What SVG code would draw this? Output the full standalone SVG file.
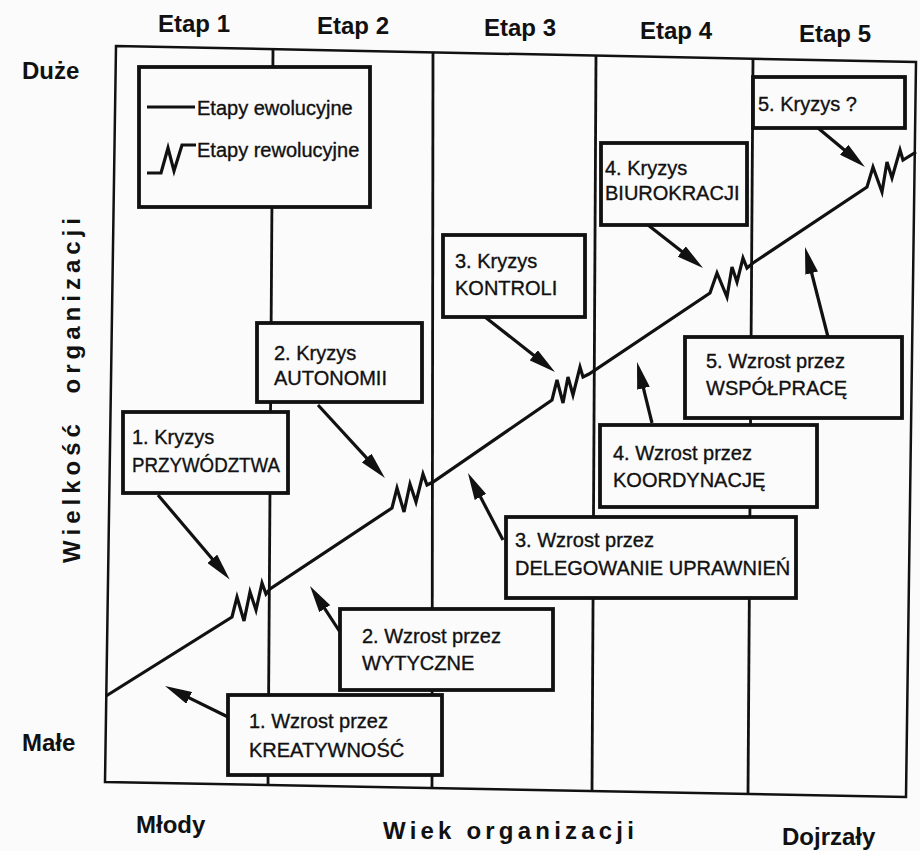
<svg xmlns="http://www.w3.org/2000/svg" width="920" height="851" viewBox="0 0 920 851">
<style>
.frame{fill:none;stroke:#111;stroke-width:2.5}
.div{fill:none;stroke:#111;stroke-width:2.8}
.box{fill:#fbfbfb;stroke:#111;stroke-width:3.8}
.t{font-family:"Liberation Sans",Arial,sans-serif;font-size:20px;fill:#111;stroke:#111;stroke-width:0.35}
.lab{font-family:"Liberation Sans",Arial,sans-serif;font-size:24px;font-weight:bold;fill:#111}
.main{fill:none;stroke:#111;stroke-width:3.2;stroke-linejoin:miter}
.arr{fill:none;stroke:#111;stroke-width:3.2;marker-end:url(#ah)}
</style>
<defs>
<marker id="ah" markerUnits="userSpaceOnUse" markerWidth="27" markerHeight="13" viewBox="0 0 27 13" refX="12" refY="6.5" orient="auto">
<path d="M0,0 L27,6.5 L0,13 Z" fill="#111"/>
</marker>
</defs>
<rect x="0" y="0" width="920" height="851" fill="#fbfbfb"/>
<g id="frame">
<polygon class="frame" points="116,46 916,62 906,797 105,782"/>
<line class="div" x1="273" y1="49" x2="268" y2="786"/>
<line class="div" x1="433" y1="52" x2="432" y2="789"/>
<line class="div" x1="596" y1="55" x2="592" y2="792"/>
<line class="div" x1="753" y1="59" x2="748" y2="794"/>
</g>
<g id="axis-labels">
<text class="lab" x="194" y="32" text-anchor="middle">Etap 1</text>
<text class="lab" x="353" y="34" text-anchor="middle">Etap 2</text>
<text class="lab" x="520" y="36" text-anchor="middle">Etap 3</text>
<text class="lab" x="676" y="39" text-anchor="middle">Etap 4</text>
<text class="lab" x="835" y="42" text-anchor="middle">Etap 5</text>
<text class="lab" x="22" y="79">Duże</text>
<text class="lab" x="22" y="751">Małe</text>
<text class="lab" x="136" y="833">Młody</text>
<text class="lab" x="782" y="845">Dojrzały</text>
<text class="lab" x="383" y="839" style="letter-spacing:4.2px">Wiek organizacji</text>
<text class="lab" transform="translate(80,388) rotate(-90)" text-anchor="middle" style="letter-spacing:5px;word-spacing:14px">Wielkość organizacji</text>
</g>
<g id="connectors">
<polyline class="main" points="106,696 232,617 237,597 244,621 250,592 256,610 262,583 266,594 270,589 392,508 397,488 404,512 410,484 416,502 423,474 427,485 433,482 552,400 557,380 563,403 568,377 573,395 580,367 583,377 589,374 710,293 717,273 727,297 732,267 737,282 743,258 747,268 753,263 867,187 873,167 882,192 887,162 892,178 900,150 903,160 916,152"/>
<line class="arr" x1="158" y1="495" x2="220" y2="568"/>
<line class="arr" x1="318" y1="405" x2="374.8" y2="466.9"/>
<line class="arr" x1="485" y1="317" x2="543.2" y2="362.7"/>
<line class="arr" x1="648" y1="225" x2="691.2" y2="258.8"/>
<line class="arr" x1="818" y1="128" x2="853.4" y2="157.4"/>
<line class="arr" x1="228" y1="717" x2="178.5" y2="692.6"/>
<line class="arr" x1="340" y1="632" x2="318.2" y2="598.6"/>
<line class="arr" x1="503" y1="540" x2="474.9" y2="486.3"/>
<line class="arr" x1="652" y1="423" x2="640.6" y2="376.6"/>
<line class="arr" x1="828" y1="337" x2="808.7" y2="261.5"/>
</g>
<g id="legend">
<rect class="box" x="139" y="67" width="231" height="140"/>
<line x1="147" y1="107" x2="195" y2="107" stroke="#111" stroke-width="2.8"/>
<polyline points="147,173 161,173 168,148 174,171 182,145 196,145" fill="none" stroke="#111" stroke-width="3.2"/>
<text class="t" x="197" y="115">Etapy ewolucyjne</text>
<text class="t" x="197" y="157">Etapy rewolucyjne</text>
</g>
<g id="kryzys1">
<rect class="box" x="123" y="412" width="165" height="81"/>
<text class="t" x="132" y="444">1. Kryzys</text>
<text class="t" x="132" y="472" textLength="148" lengthAdjust="spacingAndGlyphs">PRZYWÓDZTWA</text>
</g>
<g id="kryzys2">
<rect class="box" x="257" y="323" width="165" height="79"/>
<text class="t" x="274" y="360">2. Kryzys</text>
<text class="t" x="274" y="385">AUTONOMII</text>
</g>
<g id="kryzys3">
<rect class="box" x="443" y="235" width="142" height="82"/>
<text class="t" x="455" y="268">3. Kryzys</text>
<text class="t" x="455" y="295">KONTROLI</text>
</g>
<g id="kryzys4">
<rect class="box" x="601" y="143" width="146" height="82"/>
<text class="t" x="605" y="175">4. Kryzys</text>
<text class="t" x="605" y="200">BIUROKRACJI</text>
</g>
<g id="kryzys5">
<rect class="box" x="753" y="77" width="152" height="51"/>
<text class="t" x="758" y="111">5. Kryzys ?</text>
</g>
<g id="wzrost1">
<rect class="box" x="228" y="695" width="214" height="80"/>
<text class="t" x="249" y="728">1. Wzrost przez</text>
<text class="t" x="249" y="757">KREATYWNOŚĆ</text>
</g>
<g id="wzrost2">
<rect class="box" x="340" y="609" width="213" height="81"/>
<text class="t" x="362" y="643">2. Wzrost przez</text>
<text class="t" x="362" y="670">WYTYCZNE</text>
</g>
<g id="wzrost3">
<rect class="box" x="506" y="517" width="290" height="81"/>
<text class="t" x="515" y="547">3. Wzrost przez</text>
<text class="t" x="515" y="575">DELEGOWANIE UPRAWNIEŃ</text>
</g>
<g id="wzrost4">
<rect class="box" x="600" y="425" width="217" height="82"/>
<text class="t" x="613" y="460">4. Wzrost przez</text>
<text class="t" x="613" y="487">KOORDYNACJĘ</text>
</g>
<g id="wzrost5">
<rect class="box" x="685" y="337" width="217" height="81"/>
<text class="t" x="706" y="368">5. Wzrost przez</text>
<text class="t" x="706" y="395">WSPÓŁPRACĘ</text>
</g>
</svg>
